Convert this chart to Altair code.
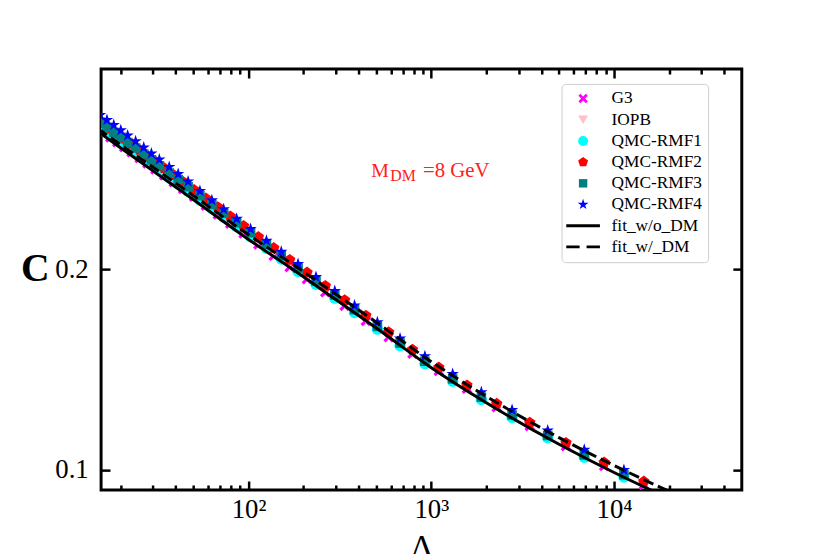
import altair as alt
import pandas as pd

# ---------------- data ----------------
SERIES = ["G3", "IOPB", "QMC-RMF1", "QMC-RMF2", "QMC-RMF3", "QMC-RMF4",
          "fit_w/o_DM", "fit_w/_DM"]
COLORS = ["#ff00ff", "#ffc0cb", "#00ffff", "#ff0000", "#008080", "#0000ff",
          "#000000", "#000000"]

# tidal deformability positions (two staggered sequences)
LAM_A = [15.4, 16.8, 18.3, 20.0, 21.8, 24.1, 26.7, 29.4, 32.5, 36.8, 41.2, 46.7,
         54.2, 63.0, 73.1, 86.1, 102.6, 125.3, 151, 186.6, 233.9, 296.5, 380.2,
         507, 674.5, 922.6, 1309, 1879, 2767, 4335, 6871, 11324]
LAM_B = [16.07, 17.54, 19.14, 20.89, 22.91, 25.35, 27.99, 30.94, 34.59, 38.99,
         43.85, 50.35, 58.48, 67.92, 79.43, 93.97, 113.2, 137.4, 167.9, 208.9,
         263.0, 335.7, 438.5, 584.8, 788.9, 1099, 1567, 2280, 3459, 5458, 8831,
         14550]

C_G3 = [0.2684, 0.2659, 0.2635, 0.2611, 0.2585, 0.2556, 0.2529, 0.2500, 0.2469,
        0.2436, 0.2402, 0.2364, 0.2319, 0.2275, 0.2229, 0.2180, 0.2125, 0.2069,
        0.2012, 0.1952, 0.1887, 0.1819, 0.1743, 0.1663, 0.1580, 0.1494, 0.1405,
        0.1313, 0.1219, 0.1118, 0.1020, 0.0925]
C_IOPB = [0.2699, 0.2674, 0.2648, 0.2624, 0.2597, 0.2568, 0.2540, 0.2511, 0.2480,
          0.2445, 0.2412, 0.2372, 0.2329, 0.2287, 0.2242, 0.2194, 0.2140, 0.2086,
          0.2028, 0.1966, 0.1900, 0.1830, 0.1754, 0.1671, 0.1586, 0.1498, 0.1409,
          0.1317, 0.1223, 0.1122, 0.1024, 0.0929]
C_RMF1 = [0.2711, 0.2686, 0.2661, 0.2635, 0.2610, 0.2582, 0.2552, 0.2524, 0.2495,
          0.2459, 0.2427, 0.2391, 0.2347, 0.2304, 0.2261, 0.2214, 0.2163, 0.2106,
          0.2052, 0.1990, 0.1926, 0.1857, 0.1785, 0.1702, 0.1620, 0.1530, 0.1442,
          0.1351, 0.1262, 0.1160, 0.1063, 0.0964]
C_RMF2 = [0.2729, 0.2703, 0.2677, 0.2653, 0.2626, 0.2596, 0.2567, 0.2538, 0.2506,
          0.2471, 0.2437, 0.2397, 0.2354, 0.2311, 0.2265, 0.2217, 0.2162, 0.2107,
          0.2048, 0.1985, 0.1918, 0.1847, 0.1770, 0.1687, 0.1600, 0.1511, 0.1422,
          0.1330, 0.1236, 0.1135, 0.1037, 0.0942]
C_RMF3 = [0.2736, 0.2710, 0.2685, 0.2660, 0.2634, 0.2606, 0.2576, 0.2547, 0.2518,
          0.2481, 0.2449, 0.2413, 0.2368, 0.2325, 0.2281, 0.2233, 0.2183, 0.2125,
          0.2070, 0.2007, 0.1942, 0.1873, 0.1800, 0.1716, 0.1633, 0.1542, 0.1454,
          0.1363, 0.1274, 0.1172, 0.1075, 0.0976]
C_RMF4 = [0.2771, 0.2746, 0.2721, 0.2695, 0.2669, 0.2640, 0.2609, 0.2579, 0.2549,
          0.2511, 0.2477, 0.2439, 0.2392, 0.2346, 0.2301, 0.2253, 0.2202, 0.2144,
          0.2089, 0.2027, 0.1962, 0.1893, 0.1820, 0.1737, 0.1656, 0.1567, 0.1479,
          0.1388, 0.1299, 0.1197, 0.1100, 0.1000]

FIT_LAM = [15, 20, 30, 50, 100, 175, 300, 500, 1000, 2000, 5000, 10000, 20000, 30000]
FIT_WO = [0.2688, 0.2606, 0.2492, 0.2348, 0.2150, 0.2000, 0.1850, 0.1708, 0.1510,
          0.1335, 0.1128, 0.0987, 0.0858, 0.0786]
FIT_W = [0.2703, 0.2622, 0.2510, 0.2368, 0.2173, 0.2025, 0.1877, 0.1737, 0.1540,
         0.1367, 0.1161, 0.1022, 0.0893, 0.0821]

X_MAJOR = [100, 1000, 10000]
X_MINOR = [20, 30, 40, 50, 60, 70, 80, 90, 200, 300, 400, 500, 600, 700, 800, 900,
           2000, 3000, 4000, 5000, 6000, 7000, 8000, 9000, 20000, 30000, 40000]
Y_TICKS = [0.1, 0.2]

ANN_TEXT = ["M", "DM", "=8 GeV"]
ANN_LAM = [470, 596, 900]
ANN_C = [0.2463, 0.2440, 0.2463]
ANN_FS = [20, 16, 21]

# ---------------- marker shapes ----------------
X_PATH = ("M-0.95,-0.55L-0.55,-0.95L0,-0.4L0.55,-0.95L0.95,-0.55L0.4,0L0.95,0.55"
          "L0.55,0.95L0,0.4L-0.55,0.95L-0.95,0.55L-0.4,0Z")
PENT_PATH = "M0,-1.05L1.0,-0.32L0.62,0.85L-0.62,0.85L-1.0,-0.32Z"
SQUARE_PATH = "M-0.85,-0.85H0.85V0.85H-0.85Z"
STAR_PATH = ("M0,-1.15L0.258,-0.355L1.094,-0.355L0.418,0.136L0.676,0.93L0,0.439"
             "L-0.676,0.93L-0.418,0.136L-1.094,-0.355L-0.258,-0.355Z")
LINE_PATH = "M-3.4,-0.3H3.4V0.3H-3.4Z"
DASH_PATH = "M-3.4,-0.3H-0.7V0.3H-3.4Z M0.7,-0.3H3.4V0.3H0.7Z"
SHAPES = [X_PATH, "triangle-down", "circle", PENT_PATH, SQUARE_PATH, STAR_PATH,
          LINE_PATH, DASH_PATH]

FONT = "Liberation Serif"

rows = []
for name, lams, cs in [("G3", LAM_B, C_G3), ("IOPB", LAM_B, C_IOPB),
                       ("QMC-RMF1", LAM_A, C_RMF1), ("QMC-RMF2", LAM_B, C_RMF2),
                       ("QMC-RMF3", LAM_A, C_RMF3), ("QMC-RMF4", LAM_A, C_RMF4)]:
    for l, c in zip(lams, cs):
        rows.append({"series": name, "lam": l, "C": c})
pts = pd.DataFrame(rows)
fit_df = pd.DataFrame({"lam": FIT_LAM, "wo": FIT_WO, "w": FIT_W})
ann_df = pd.DataFrame({"t": ANN_TEXT, "lam": ANN_LAM, "C": ANN_C, "fs": ANN_FS})

xs = alt.Scale(type="log", domain=[15.6, 50000], nice=False)
ys = alt.Scale(domain=[0.09, 0.30], nice=False, zero=False)

W, H = 647, 425
ALL_X = sorted(X_MAJOR + X_MINOR)
major_test = " || ".join(f"datum.value == {v}" for v in X_MAJOR)
x_tick_size = {"condition": {"test": major_test, "value": 9}, "value": 5}

legend = alt.Legend(title=None, orient="none", legendX=465, legendY=15,
                    direction="vertical", fillColor="white", strokeColor="#cccccc",
                    cornerRadius=4, padding=6, labelFont=FONT, labelFontSize=17.5,
                    labelColor="black", symbolSize=100, symbolOffset=7,
                    labelOffset=20, rowPadding=2.4, symbolOpacity=1,
                    symbolStrokeWidth=0)

# axes: labels set
ax1x = alt.Axis(orient="bottom", values=X_MAJOR, ticks=False, tickSize=0,
                domain=False, grid=False,
                labelExpr="datum.value == 100 ? '10²' : (datum.value == 1000 ? '10³' : '10⁴')",
                labelFont=FONT, labelFontSize=27, labelPadding=7, labelColor="black",
                title="Λ", titleFont=FONT, titleFontSize=34, titleFontWeight="normal",
                titleBaseline="top", titleY=41, titleColor="black")
ax1y = alt.Axis(orient="left", values=Y_TICKS, ticks=False, tickSize=0, domain=False,
                grid=False, format=".1f", labelFont=FONT, labelFontSize=27,
                labelPadding=13, labelColor="black", title="C", titleFont=FONT,
                titleFontSize=40, titleFontWeight="bold", titleAngle=0,
                titleX=-67, titleY=202, titleAlign="center", titleBaseline="middle",
                titleColor="black")
# inward ticks on bottom / left
ax2x = alt.Axis(orient="top", offset=-H, values=ALL_X, labels=False, domain=False,
                grid=False, tickSize=x_tick_size, tickWidth=2.5, tickColor="black",
                title=None)
ax2y = alt.Axis(orient="right", offset=-W, values=Y_TICKS, labels=False, domain=False,
                grid=False, tickSize=9, tickWidth=2.5, tickColor="black", title=None)
# inward ticks on top / right
ax3x = alt.Axis(orient="bottom", offset=-H, values=ALL_X, labels=False, domain=False,
                grid=False, tickSize=x_tick_size, tickWidth=2.5, tickColor="black",
                title=None)
ax3y = alt.Axis(orient="left", offset=-W, values=Y_TICKS, labels=False, domain=False,
                grid=False, tickSize=9, tickWidth=2.5, tickColor="black", title=None)

points = alt.Chart(pts).mark_point(filled=True, opacity=1, size=130, clip=True).encode(
    x=alt.X("lam:Q", scale=xs, axis=ax1x),
    y=alt.Y("C:Q", scale=ys, axis=ax1y),
    color=alt.Color("series:N", scale=alt.Scale(domain=SERIES, range=COLORS), legend=legend),
    shape=alt.Shape("series:N", scale=alt.Scale(domain=SERIES, range=SHAPES), legend=legend),
)

solid = alt.Chart(fit_df).mark_line(color="black", strokeWidth=3, clip=True,
                                    interpolate="monotone").encode(
    x=alt.X("lam:Q", scale=xs, axis=ax2x),
    y=alt.Y("wo:Q", scale=ys, axis=ax2y),
)
dashed = alt.Chart(fit_df).mark_line(color="black", strokeWidth=3, strokeDash=[11, 5],
                                     clip=True, interpolate="monotone").encode(
    x=alt.X("lam:Q", scale=xs, axis=ax3x),
    y=alt.Y("w:Q", scale=ys, axis=ax3y),
)
ann = alt.Chart(ann_df).mark_text(color="#ff2020", align="left", baseline="alphabetic",
                                  font=FONT).encode(
    x=alt.X("lam:Q", scale=xs, axis=None),
    y=alt.Y("C:Q", scale=ys, axis=None),
    text="t:N",
    size=alt.Size("fs:Q", scale=None, legend=None),
)

chart = alt.layer(points, solid, dashed, ann).resolve_axis(
    x="independent", y="independent"
).properties(
    width=W, height=H,
    autosize=alt.AutoSizeParams(type="none"),
    padding={"left": 94, "top": 59, "right": 81, "bottom": 62},
    background="white",
).configure(font=FONT).configure_view(stroke="black", strokeWidth=3)

chart.save("out.html", embed_options={"renderer": "svg", "actions": False})
